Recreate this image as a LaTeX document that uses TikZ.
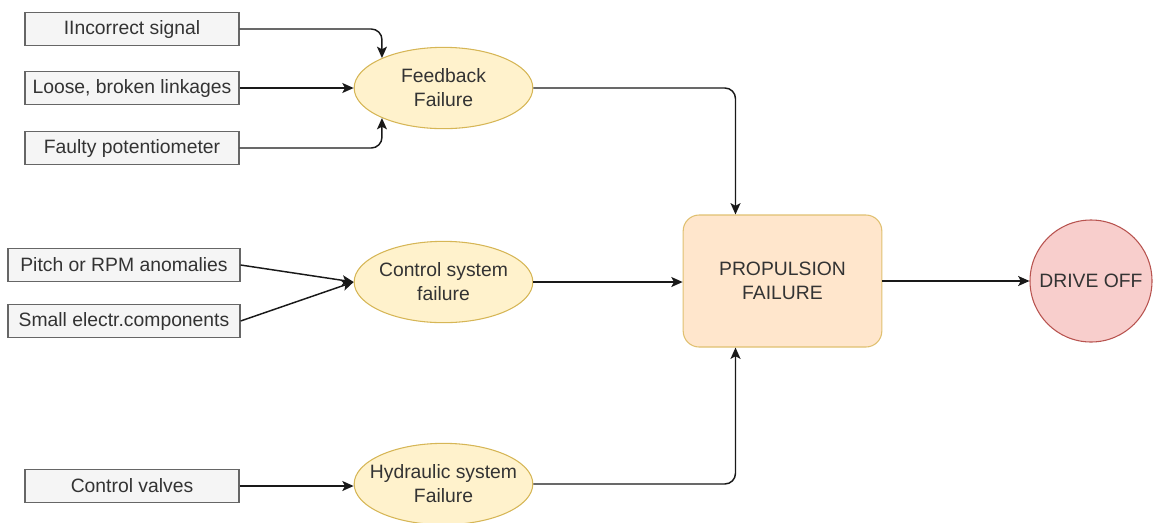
\documentclass[tikz,border=0pt]{standalone}
\usepackage{fontspec}
\setmainfont{Liberation Sans}
\usetikzlibrary{arrows.meta,calc,shapes.geometric}
\definecolor{txt}{HTML}{333333}
\definecolor{boxfill}{HTML}{F5F5F5}
\definecolor{boxline}{HTML}{666666}
\definecolor{ellfill}{HTML}{FFF2CC}
\definecolor{ellline}{HTML}{D6B656}
\definecolor{topfill}{HTML}{FFE6CC}
\definecolor{topline}{HTML}{E0C070}
\definecolor{endfill}{HTML}{F8CECC}
\definecolor{endline}{HTML}{B85450}
\tikzset{
  every node/.style={font=\fontsize{14.5}{18}\selectfont, text=txt},
  cause/.style={draw=boxline, fill=boxfill, line width=0.9pt, minimum height=24.75pt, inner sep=0pt},
  event/.style={ellipse, draw=ellline, fill=ellfill, line width=0.8pt, minimum width=134pt, minimum height=61pt, inner sep=0pt},
  eventtext/.style={label={[align=center, font=\fontsize{14.5}{18}\selectfont, text=txt]center:#1}},
  topevent/.style={draw=topline, fill=topfill, line width=0.8pt, rounded corners=12pt, minimum width=149pt, minimum height=99pt, align=center},
  endstate/.style={circle, draw=endline, fill=endfill, line width=0.8pt, minimum size=91.5pt, inner sep=0pt},
  arr/.style={draw=black!90, line width=1.1pt, rounded corners=8pt, -{Stealth[length=8.5pt,width=7.5pt,inset=2pt]}}
}
\begin{document}
\begin{tikzpicture}[x=0.75pt, y=-0.75pt]
  \useasboundingbox (0,0) rectangle (1153,522);

  % basic causes
  \node[cause, minimum width=160.5pt] (b1) at (132,29)  {IIncorrect signal};
  \node[cause, minimum width=160.5pt] (b2) at (132,88)  {Loose, broken linkages};
  \node[cause, minimum width=160.5pt] (b3) at (132,148) {Faulty potentiometer};
  \node[cause, minimum width=174pt]   (b4) at (124,265) {Pitch or RPM anomalies};
  \node[cause, minimum width=174pt]   (b5) at (124,321) {Small electr.components};
  \node[cause, minimum width=160.5pt] (b6) at (132,486) {Control valves};

  % intermediate failures (fixed-size ellipses, text set on top)
  \node[event, eventtext={Feedback\\Failure}] (fb) at (443.5,88) {};
  \node[event, eventtext={Control system\\failure}] (cs) at (443.5,282) {};
  \node[event, eventtext={Hydraulic system\\Failure}] (hy) at (443.5,484) {};

  % top event and consequence
  \node[topevent] (prop) at (782.5,281) {PROPULSION\\FAILURE};
  \node[endstate] (drive) at (1091,281) {DRIVE OFF};

  \coordinate (pin)  at ($(prop.north)+(-47,0)$);
  \coordinate (pout) at ($(prop.south)+(-47,0)$);

  % connectors
  \draw[arr] (b1.east) -| (fb.154);
  \draw[arr] (b2.east) -- (fb.west);
  \draw[arr] (b3.east) -| (fb.206);
  \draw[arr] (b4.east) -- (cs.west);
  \draw[arr] (b5.east) -- (cs.west);
  \draw[arr] (b6.east) -- (hy.west |- b6.east);
  \draw[arr] (fb.east) -| (pin);
  \draw[arr] (cs.east) -- (cs.east -| prop.west);
  \draw[arr] (hy.east) -| (pout);
  \draw[arr] (prop.east) -- (drive.west);
\end{tikzpicture}
\end{document}
